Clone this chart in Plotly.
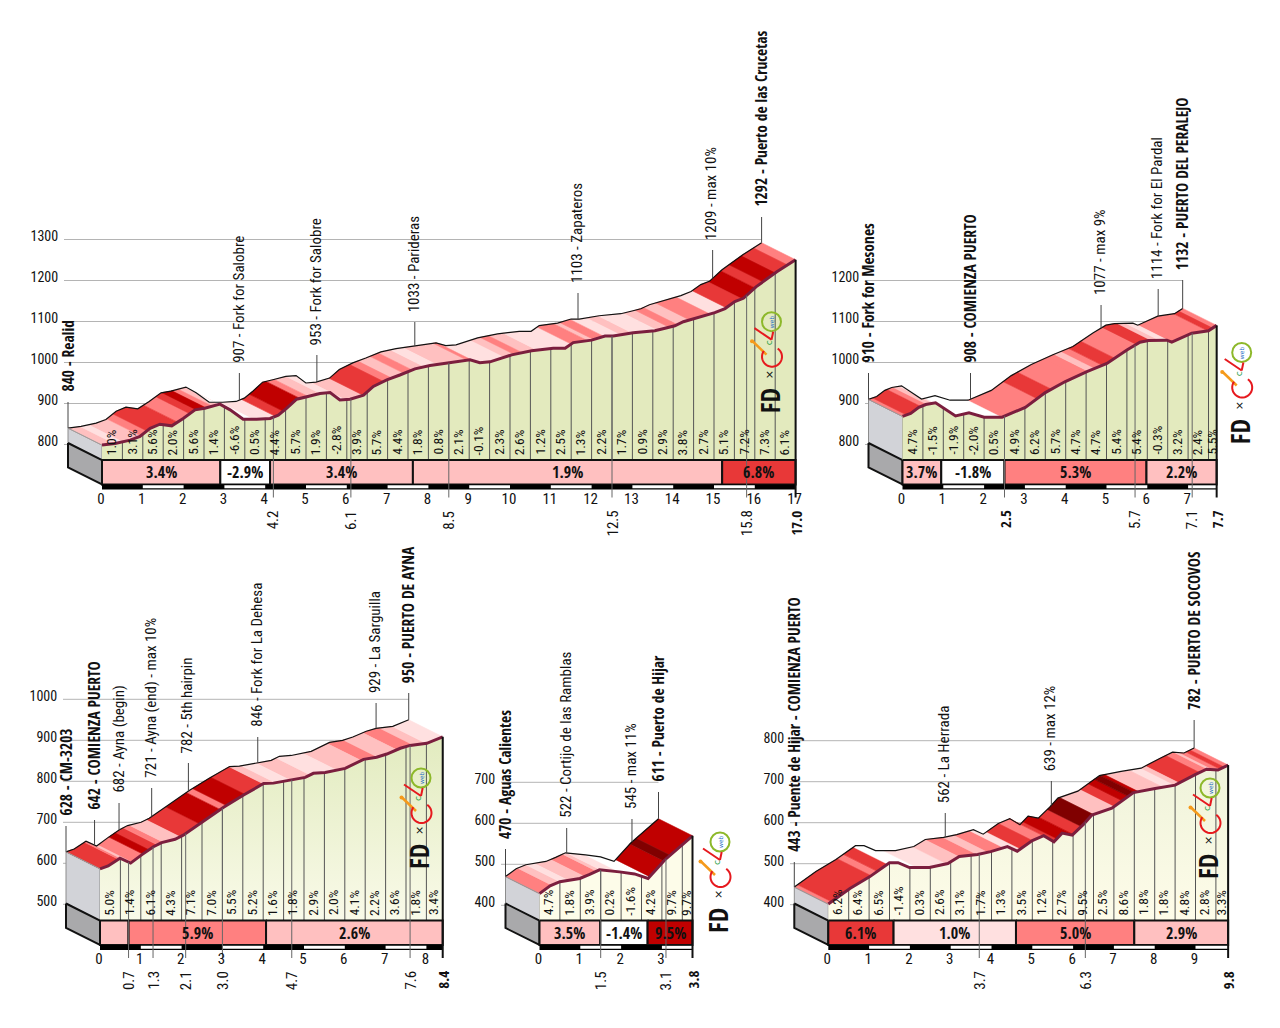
import numpy as np
import plotly.graph_objects as go

W, H = 1280, 1028
SX, SY = 40.8, 0.41      # px per km, px per metre
DX, DY = 34, 17          # oblique depth of the ribbon in px
FONT = "Roboto Condensed"
FONTB = "Open Sans Condensed"

COL = ["#ffffff", "#ffe0e0", "#ffc0c0", "#ff8080", "#e83838", "#c00000", "#800000"]

# ---------- Panel A: Puerto de las Crucetas ----------
a_km = [0,.32,.69,.93,1.18,1.42,1.71,1.99,2.28,2.52,2.89,3.14,3.46,3.79,4.12,4.32,4.53,4.77,5.02,5.34,5.59,5.83,6.08,6.41,6.65,6.98,7.3,7.67,8.04,8.53,9.02,9.26,9.51,10.04,10.53,11.06,11.35,11.55,12.0,12.33,12.53,13.02,13.55,13.8,14.04,14.25,14.53,15.02,15.27,15.51,15.72,16.03,16.54,17.0]
a_ele = [840,844,852,861,881,891,887,905,926,930,940,926,903,903,905,913,930,952,958,966,968,950,952,962,983,999,1011,1026,1034,1041,1048,1041,1043,1060,1070,1076,1076,1090,1096,1106,1106,1114,1119,1125,1131,1141,1149,1163,1173,1190,1198,1226,1263,1292]
a_bk = [0,.3,.5,.95,1.1,1.85,2.15,2.3,2.55,2.7,2.87,3.1,3.7,4.25,4.44,4.85,5.05,5.35,5.95,6.4,6.9,7.1,7.4,7.6,7.9,8.2,8.95,9.1,9.85,10.1,10.3,10.67,11.5,11.9,12.05,12.3,12.7,13.0,13.6,13.9,14.1,14.4,14.9,15.3,15.7,16.0,16.2,16.5,16.8]
a_bc = [2,1,2,3,4,3,4,5,3,2,1,0,1,4,5,3,2,1,2,4,3,2,3,2,1,2,3,1,2,3,2,1,3,2,3,1,2,1,2,3,2,3,1,4,5,4,5,4,3]
a_grades = ["1.0%","3.1%","5.6%","2.0%","5.6%","1.4%","-6.6%","0.5%","4.4%","5.7%","1.9%","-2.8%","3.9%","5.7%","4.4%","1.8%","0.8%","2.1%","-0.1%","2.3%","2.6%","1.2%","2.5%","1.3%","2.2%","1.7%","0.9%","2.9%","3.8%","2.7%","5.1%","7.2%","7.3%","6.1%"]
a_sec_km = [0,2.9,4.12,7.62,15.2,17]
a_sec_txt = ["3.4%","-2.9%","3.4%","1.9%","6.8%"]
a_sec_cls = [2,0,2,2,4]
a_lab = ["840 - Realid","907 - Fork for Salobre","953 - Fork for Salobre","1033 - Parideras","1103 - Zapateros","1209 - max 10%","1292 - Puerto de las Crucetas"]
a_lab_km = [0,4.2,6.1,8.5,12.5,15.8,17.0]
a_lab_bold = [1,0,0,0,0,0,1]
a_lab_top = [402,373,355,322,293,250,217]
a_yt = [800,900,1000,1100,1200,1300]

# ---------- Panel B: Puerto del Peralejo ----------
b_km = [0,.2,.4,.57,.81,1.06,1.3,1.63,2.0,2.44,3.01,3.5,3.99,4.52,5.01,5.5,5.82,6.03,6.48,6.6,7.09,7.5,7.7]
b_ele = [910,917,932,939,943,926,911,919,908,908,932,968,995,1019,1039,1072,1091,1095,1096,1091,1113,1119,1132]
b_bk = [0,.1,.45,.6,.75,.85,2.42,3.3,3.65,4.3,4.55,4.7,4.9,5.2,5.73,6.1,6.3,6.6,7.48,7.6]
b_bc = [3,4,3,2,1,0,3,4,3,3,2,3,4,3,4,2,1,3,4,3]
b_grades = ["4.7%","-1.5%","-1.9%","-2.0%","0.5%","4.9%","6.2%","5.7%","4.7%","4.7%","5.4%","5.4%","-0.3%","3.2%","2.4%","5.5%"]
b_sec_km = [0,.95,2.5,5.98,7.7]
b_sec_txt = ["3.7%","-1.8%","5.3%","2.2%"]
b_sec_cls = [2,0,3,2]
b_lab = ["910 - Fork for Mesones","908 - COMIENZA PUERTO","1077 - max 9%","1114 - Fork for El Pardal","1132 - PUERTO DEL PERALEJO"]
b_lab_km = [0,2.5,5.7,7.1,7.7]
b_lab_bold = [1,1,0,0,1]
b_lab_top = [373,373,305,289,280]
b_yt = [800,900,1000,1100,1200]

# ---------- Panel C: Puerto de Ayna ----------
c_km = [0,.2,.49,.75,1.02,1.31,1.51,1.84,2.04,2.49,3.03,3.52,4.01,4.25,4.74,5.03,5.23,5.52,6.01,6.46,6.78,7.03,7.36,7.6,8.01,8.4]
c_ele = [628,635,654,642,662,682,692,700,710,740,778,808,836,837,846,851,861,863,873,895,900,908,922,929,934,950]
c_bk = [0,.45,.6,.78,1.05,1.2,1.4,1.55,1.96,2.45,2.95,3.1,3.55,4.0,4.3,4.65,5.15,5.8,6.4,6.8,7.27,7.68,8.0]
c_bc = [4,3,2,3,5,4,3,2,4,5,3,5,4,2,1,2,1,2,3,2,3,2,1]
c_grades = ["5.0%","1.4%","6.1%","4.3%","7.1%","7.0%","5.5%","5.2%","1.6%","1.8%","2.9%","2.0%","4.1%","2.2%","3.6%","1.8%","3.4%"]
c_sec_km = [0,.7,4.07,8.4]
c_sec_txt = ["","5.9%","2.6%"]
c_sec_cls = [2,3,2]
c_lab = ["628 - CM-3203","642 - COMIENZA PUERTO","682 - Ayna (begin)","721 - Ayna (end) - max 10%","782 - 5th hairpin","846 - Fork for La Dehesa","929 - La Sarguilla","950 - PUERTO DE AYNA"]
c_lab_km = [0,.7,1.3,2.1,3.0,4.7,7.6,8.4]
c_lab_bold = [1,1,0,0,0,0,0,1]
c_lab_top = [826,820,803,788,763,737,703,693]
c_yt = [500,600,700,800,900,1000]

# ---------- Panel D: Puerto de Hijar ----------
d_km = [0,.26,.5,.99,1.23,1.47,1.96,2.33,2.66,3.07,3.75]
d_ele = [470,489,499,507,517,528,523,518,507,552,611]
d_bk = [0,.3,.5,.7,1.1,1.4,1.5,1.95,2.7,3.05,3.2]
d_bc = [3,2,1,2,3,2,1,0,5,6,5]
d_grades = ["4.7%","1.8%","3.9%","0.2%","-1.6%","4.2%","9.7%","9.7%"]
d_sec_km = [0,1.49,2.65,3.75]
d_sec_txt = ["3.5%","-1.4%","9.5%"]
d_sec_cls = [2,0,5]
d_lab = ["470 - Aguas Calientes","522 - Cortijo de las Ramblas","545 - max 11%","611 - Puerto de Hijar"]
d_lab_km = [0,1.5,3.1,3.75]
d_km_txt = ["","1.5","3.1","3.8"]
d_lab_bold = [1,0,0,1]
d_lab_top = [849,828,819,792]
d_yt = [400,500,600,700]

# ---------- Panel E: Puerto de Socovos ----------
e_km = [0,.53,1.02,1.5,1.71,1.99,2.48,2.93,3.21,3.66,3.98,4.39,4.63,5.0,5.28,5.53,5.73,5.98,6.26,6.46,6.95,7.48,8.01,8.5,8.98,9.27,9.55,9.8]
e_ele = [443,481,510,544,544,532,532,542,559,564,571,583,572,598,610,595,616,611,638,660,677,715,725,733,758,772,770,782]
e_bk = [0,.08,1.05,1.2,1.45,2.18,2.9,3.2,3.65,3.9,4.3,4.7,5.0,5.27,5.6,6.0,6.2,6.5,7.0,7.2,7.35,7.5,7.6,8.2,8.5,8.6,9.1,9.3,9.4,9.6,9.7]
e_bc = [3,4,3,4,0,1,2,3,2,3,1,4,3,4,5,4,6,2,4,5,6,5,2,1,2,4,3,2,3,4,3]
e_grades = ["6.2%","6.4%","6.5%","-1.4%","0.3%","2.6%","3.1%","1.7%","1.3%","3.5%","1.2%","2.7%","9.5%","2.5%","8.6%","1.8%","1.8%","4.8%","2.8%","3.3%"]
e_sec_km = [0,1.6,4.6,7.5,9.8]
e_sec_txt = ["6.1%","1.0%","5.0%","2.9%"]
e_sec_cls = [4,1,3,2]
e_lab = ["443 - Puente de Hijar - COMIENZA PUERTO","562 - La Herrada","639 - max 12%","782 - PUERTO DE SOCOVOS"]
e_lab_km = [0,3.7,6.3,9.8]
e_lab_bold = [1,0,0,1]
e_lab_top = [862,813,781,720]
e_yt = [400,500,600,700,800]

PANELS = [
 dict(km=a_km, ele=a_ele, bk=a_bk, bc=a_bc, gr=a_grades, sk=a_sec_km, st=a_sec_txt, sc=a_sec_cls, lab=a_lab, lk=a_lab_km, lb=a_lab_bold, lt=a_lab_top, yt=a_yt,
      x0=102, ref=(1300,239.5), L=64, R=815, T=5, B=538, wall=460, wall_c=("#e3eabe","#e3eabe"), logo=(771.5,321.7)),
 dict(km=b_km, ele=b_ele, bk=b_bk, bc=b_bc, gr=b_grades, sk=b_sec_km, st=b_sec_txt, sc=b_sec_cls, lab=b_lab, lk=b_lab_km, lb=b_lab_bold, lt=b_lab_top, yt=b_yt,
      x0=902.5, ref=(1200,280.5), L=865, R=1225, T=5, B=538, wall=460, wall_c=("#e3eabe","#e3eabe"), logo=(1241.7,352.5)),
 dict(km=c_km, ele=c_ele, bk=c_bk, bc=c_bc, gr=c_grades, sk=c_sec_km, st=c_sec_txt, sc=c_sec_cls, lab=c_lab, lk=c_lab_km, lb=c_lab_bold, lt=c_lab_top, yt=c_yt,
      x0=100, ref=(1000,699.3), L=63, R=455, T=540, B=1000, wall=920.5, wall_c=("#e2ebbf","#f9fae9"), logo=(421,778)),
 dict(km=d_km, ele=d_ele, bk=d_bk, bc=d_bc, gr=d_grades, sk=d_sec_km, st=d_sec_txt, sc=d_sec_cls, lab=d_lab, lk=d_lab_km, lb=d_lab_bold, lt=d_lab_top, yt=d_yt, kt=d_km_txt,
      x0=539.5, ref=(700,782.3), L=501, R=700, T=540, B=1000, wall=920.5, wall_c=("#fdfce9","#fdfce9"), logo=(720,842)),
 dict(km=e_km, ele=e_ele, bk=e_bk, bc=e_bc, gr=e_grades, sk=e_sec_km, st=e_sec_txt, sc=e_sec_cls, lab=e_lab, lk=e_lab_km, lb=e_lab_bold, lt=e_lab_top, yt=e_yt,
      x0=828.3, ref=(800,740.7), L=790, R=1240, T=540, B=1000, wall=920.5, wall_c=("#eff3da","#fefce9"), logo=(1210,788)),
]

fig = go.Figure()
annos, shapes, layout_axes = [], [], {}
DKM, DM = DX/SX, DY/SY


def T(i, xs, ys, **kw):
    sfx = "" if i == 0 else str(i+1)
    fig.add_trace(go.Scatter(x=xs, y=ys, xaxis="x"+sfx, yaxis="y"+sfx, hoverinfo="skip", **kw))


def poly(i, xs, ys, fill, line="rgba(0,0,0,0)", w=0):
    T(i, xs+[xs[0]], ys+[ys[0]], mode="lines", fill="toself", fillcolor=fill, line=dict(color=line, width=w))


for i, P in enumerate(PANELS):
    km = np.array(P["km"], float); ele = np.array(P["ele"], float)
    end = km[-1]
    x0, (re, rp) = P["x0"], P["ref"]
    xd = lambda px, x0=x0: (px-x0)/SX
    yd = lambda py, re=re, rp=rp: re+(rp-py)/SY
    sfx = "" if i == 0 else str(i+1)
    wall, bar_b, strip_b = P["wall"], P["wall"]+24.5, P["wall"]+29.5
    xr = "x"+sfx; yr = "y"+sfx

    layout_axes["xaxis"+sfx] = dict(
        domain=[P["L"]/W, P["R"]/W], range=[xd(P["L"]), xd(P["R"])], anchor="free", position=1-(strip_b-2)/H,
        tickvals=list(range(0, int(end)+1)), showgrid=False, zeroline=False, showline=False,
        ticks="", ticklabelshift=-1, tickfont=dict(family=FONT, size=15, color="#111"), fixedrange=True)
    layout_axes["yaxis"+sfx] = dict(
        domain=[1-P["B"]/H, 1-P["T"]/H], range=[yd(P["B"]), yd(P["T"])], anchor=xr,
        tickvals=P["yt"], showgrid=False, zeroline=False, showline=False,
        ticks="outside", ticklen=2, tickcolor="rgba(0,0,0,0)", ticklabelshift=-3, tickfont=dict(family=FONT, size=14, color="#111"), fixedrange=True)

    # gridlines on the back plane, ending at the summit
    gx, gy = [], []
    for v in P["yt"]:
        gx += [xd(P["L"]), end-DKM, None]; gy += [v, v, None]
    T(i, gx, gy, mode="lines", line=dict(color="#b4b4b4", width=1))

    # side block
    top0 = ele[0]
    bx = -DKM
    poly(i, [bx, 0, 0, bx], [top0, top0-DM, yd(wall), yd(wall-DY)], "#d2d3d8", "#8c8c8c", 1)
    poly(i, [bx, 0, 0, bx], [yd(wall-DY), yd(wall), yd(bar_b), yd(bar_b-DY)], "#a9a9ab", "#111111", 2)

    # front wall
    wx = [0]+list(km)+[end]; wy = [yd(wall)]+list(ele-DM)+[yd(wall)]
    c1, c2 = P["wall_c"]
    if c1 == c2:
        T(i, wx, wy, mode="lines", fill="toself", fillcolor=c1, line=dict(width=0, color="rgba(0,0,0,0)"))
    else:
        T(i, wx, wy, mode="lines", fill="toself", line=dict(width=0, color="rgba(0,0,0,0)"),
          fillgradient=dict(type="vertical", colorscale=[[0, c2], [1, c1]]))

    # half-km lines on the wall
    hk = np.append(np.arange(0.5, end, 0.5), end)
    vx, vy = [], []
    for k in hk:
        vx += [k, k, None]; vy += [float(np.interp(k, km, ele))-DM, yd(wall), None]
    T(i, vx, vy, mode="lines", line=dict(color="#555555", width=1))

    # ribbon bands by gradient class
    edges = list(P["bk"])+[end]
    groups = {}
    for j, c in enumerate(P["bc"]):
        s, e = edges[j], edges[j+1]
        inner = [k for k in km if s < k < e]
        ks = np.array([s]+inner+[e])
        es = np.interp(ks, km, ele)
        xs = list(ks-DKM)+list(ks[::-1])+[ks[0]-DKM]
        ys = list(es)+list(es[::-1]-DM)+[es[0]]
        g = groups.setdefault(c, ([], []))
        g[0].extend(xs+[None]); g[1].extend(ys+[None])
    for c, (xs, ys) in groups.items():
        T(i, xs, ys, mode="lines", fill="toself", fillcolor=COL[c], line=dict(color=COL[c], width=0.6))

    # back edge / front edge
    T(i, list(km-DKM), list(ele), mode="lines", line=dict(color="#111111", width=1.2))
    T(i, list(km), list(ele-DM), mode="lines", line=dict(color="#7b1e3e", width=3))
    T(i, [bx, 0], [top0, top0-DM], mode="lines", line=dict(color="#999999", width=1))

    # section bar
    sk, st, sc = P["sk"], P["st"], P["sc"]
    for j in range(len(st)):
        a, b = sk[j], sk[j+1]
        poly(i, [a, b, b, a], [yd(wall), yd(wall), yd(bar_b), yd(bar_b)], COL[sc[j]], "#111111", 2)
        if st[j]:
            annos.append(dict(x=(a+b)/2, y=yd((wall+bar_b)/2), xref=xr, yref=yr, text=st[j], showarrow=False,
                              font=dict(family=FONTB, size=16, color="#111")))

    # km strip
    poly(i, [0, end, end, 0], [yd(bar_b), yd(bar_b), yd(strip_b), yd(strip_b)], "#000000")
    for k in range(1, int(np.ceil(end)), 2):
        kk = min(k+1, end)
        poly(i, [k, kk, kk, k], [yd(bar_b+.8), yd(bar_b+.8), yd(strip_b-1.2), yd(strip_b-1.2)], "#ffffff")

    # grade labels
    bins = list(np.arange(0, end, 0.5))+[end]
    for j, g in enumerate(P["gr"]):
        annos.append(dict(x=(bins[j]+bins[j+1])/2-1.5/SX, y=yd(wall-3), xref=xr, yref=yr, text=g, showarrow=False,
                          textangle=-90, xanchor="center", yanchor="bottom", font=dict(family=FONT, size=13.5, color="#111")))

    # named points
    for j, (lab, k) in enumerate(zip(P["lab"], P["lk"])):
        bold = P["lb"][j]; top = P["lt"][j]
        e = float(np.interp(k, km, ele))
        T(i, [k-DKM, k-DKM], [e, yd(top)], mode="lines", line=dict(color="#444444", width=1))
        annos.append(dict(x=k-DKM-1/SX, y=yd(top-8), xref=xr, yref=yr, text=lab, showarrow=False,
                          textangle=-90, xanchor="center", yanchor="bottom",
                          font=dict(family=FONTB if bold else FONT, size=15.5 if bold else 15, color="#111")))
        if k > 0:
            last = k == end
            T(i, [k, k], [e-DM, yd(strip_b+8)], mode="lines",
              line=dict(color="#111111" if last else "#666666", width=2 if last else 1))
            kt = P.get("kt", [None]*99)[j] or ("%.1f" % k)
            strong = bold and k >= 2
            annos.append(dict(x=k, y=yd(strip_b+19), xref=xr, yref=yr, text=kt, showarrow=False,
                              textangle=-90, xanchor="center", yanchor="top",
                              font=dict(family=FONTB if strong else FONT, size=15, color="#111")))

    # logo (paper coordinates)
    cx, cy = P["logo"]
    def pa(px, py, **kw):
        annos.append(dict(x=px/W, y=1-py/H, xref="paper", yref="paper", xanchor="center", yanchor="middle", showarrow=False, **kw))
    def pl(x1, y1, x2, y2, col, w):
        shapes.append(dict(type="line", xref="paper", yref="paper", x0=x1/W, x1=x2/W, y0=1-y1/H, y1=1-y2/H, line=dict(color=col, width=w)))
    shapes.append(dict(type="circle", xref="paper", yref="paper", x0=(cx-9.5)/W, x1=(cx+9.5)/W, y0=1-(cy+9.5)/H, y1=1-(cy-9.5)/H, line=dict(color="#8db82a", width=2)))
    pa(cx, cy, text="web", textangle=-90, font=dict(family="DejaVu Sans", size=6, color="#2a70c8"))
    pl(cx-19, cy+19.5, cx-5, cy+33, "#f59a1b", 2.5)
    shapes.append(dict(type="circle", xref="paper", yref="paper", fillcolor="#f59a1b", line=dict(width=0), x0=(cx-21.5)/W, x1=(cx-17.5)/W, y0=1-(cy+21.5)/H, y1=1-(cy+17.5)/H))
    pl(cx-17, cy+6.5, cx+0, cy+18, "#e6191e", 2)
    pl(cx+0, cy+18, cx+1.7, cy+10, "#e6191e", 2)
    ang = np.radians(np.linspace(-55, 215, 28))
    pts = [((cx+0.5+10*np.cos(t))/W, 1-(cy+35+10*np.sin(t))/H) for t in ang]
    shapes.append(dict(type="path", xref="paper", yref="paper", line=dict(color="#e6191e", width=2),
                       path="M"+" L".join("%.5f,%.5f" % p for p in pts)))
    pa(cx-3, cy+21, text="c", textangle=-90, font=dict(family="DejaVu Sans", size=9, color="#1c9a3c"))
    pa(cx-2, cy+53, text="×", textangle=-90, font=dict(family="DejaVu Sans", size=11, color="#111"))
    pa(cx-2, cy+79, text="FD", textangle=-90, font=dict(family=FONTB, size=26, color="#111"))

fig.update_layout(width=W, height=H, margin=dict(l=0, r=0, t=0, b=0), autosize=False,
                  paper_bgcolor="white", plot_bgcolor="rgba(0,0,0,0)", showlegend=False,
                  annotations=annos, shapes=shapes, **layout_axes)
fig.write_html("out.html", config=dict(displayModeBar=False),
               post_script="document.body.style.margin='0';document.documentElement.style.overflow='hidden';")
